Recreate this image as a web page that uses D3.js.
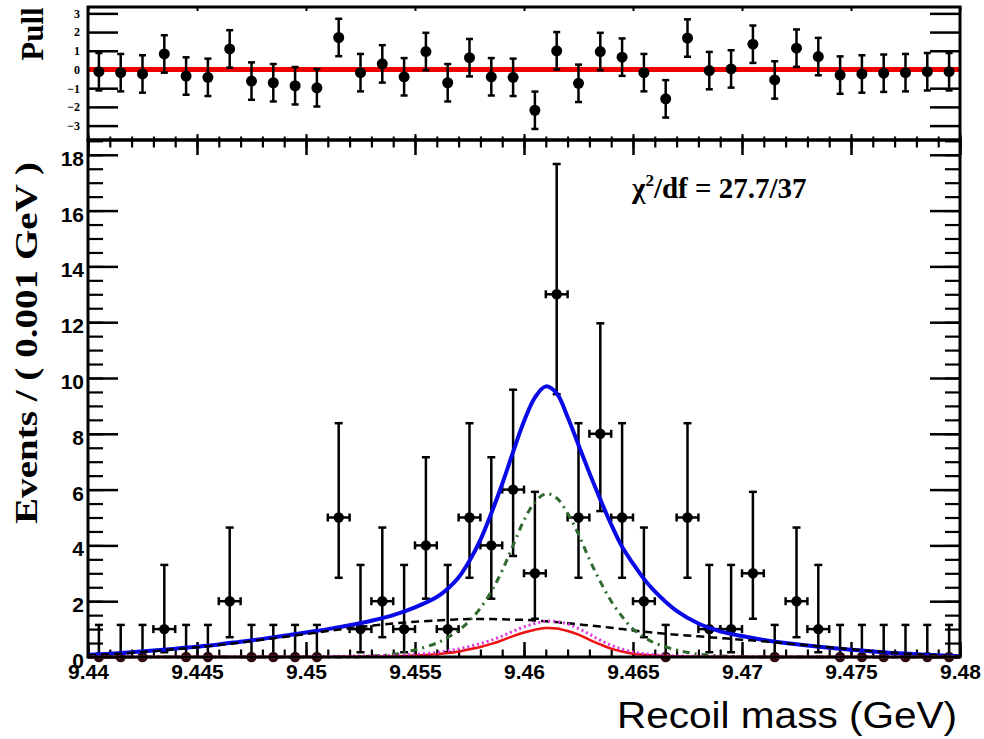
<!DOCTYPE html>
<html><head><meta charset="utf-8">
<script src="https://cdn.jsdelivr.net/npm/d3@7"></script>
<style>body{margin:0;background:#fff}</style>
</head><body><svg id="c" width="984" height="739"></svg>
<script>
// ---------------- DATA ----------------
const binCenters = [9.4405,9.4415,9.4425,9.4435,9.4445,9.4455,9.4465,9.4475,9.4485,9.4495,
  9.4505,9.4515,9.4525,9.4535,9.4545,9.4555,9.4565,9.4575,9.4585,9.4595,
  9.4605,9.4615,9.4625,9.4635,9.4645,9.4655,9.4665,9.4675,9.4685,9.4695,
  9.4705,9.4715,9.4725,9.4735,9.4745,9.4755,9.4765,9.4775,9.4785,9.4795];
const counts = [0,0,0,1,0,0,2,0,0,0, 0,5,1,2,1,4,1,5,4,6, 3,13,5,8,5,2,0,5,1,1, 3,0,2,1,0,0,0,0,0,0];
const errLow = [0,0,0,0.83,0,0,1.29,0,0,0, 0,2.16,0.83,1.29,0.83,1.91,0.83,2.16,1.91,2.38,
  1.63,3.58,2.16,2.77,2.16,1.29,0,2.16,0.83,0.83, 1.63,0,1.29,0.83,0,0,0,0,0,0];
const errHigh = [1.15,1.15,1.15,2.30,1.15,1.15,2.64,1.15,1.15,1.15, 1.15,3.38,2.30,2.64,2.30,3.16,2.30,3.38,3.16,3.58,
  2.92,4.67,3.38,3.96,3.38,2.64,1.15,3.38,2.30,2.30, 2.92,1.15,2.64,2.30,1.15,1.15,1.15,1.15,1.15,1.15];
const pulls = [-0.12,-0.17,-0.24,0.83,-0.35,-0.42,1.10,-0.62,-0.71,-0.87, -0.98,1.71,-0.17,0.30,-0.39,0.96,-0.71,0.63,-0.39,-0.42,
  -2.18,1.00,-0.74,0.96,0.66,-0.17,-1.57,1.68,-0.06,0.03, 1.35,-0.56,1.14,0.69,-0.30,-0.24,-0.20,-0.17,-0.12,-0.12];

const curveMass = [9.440,9.441,9.442,9.443,9.444,9.445,9.446,9.447,9.448,9.449,9.450,9.451,9.452,9.453,9.454,9.455,9.456,
  9.4565,9.457,9.4575,9.458,9.4585,9.459,9.4595,9.460,9.4605,9.461,9.4615,9.462,9.4625,9.463,9.4635,9.464,9.4645,9.465,9.4655,
  9.466,9.467,9.468,9.469,9.470,9.471,9.472,9.473,9.474,9.475,9.476,9.477,9.478,9.479,9.480];
const totalFit = [0.08,0.12,0.17,0.23,0.30,0.37,0.45,0.55,0.65,0.76,0.88,1.00,1.14,1.30,1.50,1.78,2.15,
  2.45,2.85,3.45,4.2,5.15,6.2,7.35,8.45,9.3,9.7,9.45,8.6,7.6,6.6,5.65,4.75,3.95,3.35,2.8,
  2.35,1.65,1.2,0.92,0.75,0.61,0.5,0.41,0.33,0.26,0.2,0.14,0.1,0.06,0.03];
const background = [0.06,0.10,0.15,0.21,0.28,0.35,0.43,0.52,0.62,0.72,0.82,0.93,1.03,1.12,1.20,1.26,1.31,
  1.33,1.35,1.36,1.36,1.36,1.35,1.34,1.33,1.31,1.28,1.25,1.21,1.17,1.13,1.09,1.05,1.00,0.95,0.91,
  0.87,0.80,0.74,0.68,0.62,0.56,0.49,0.42,0.35,0.28,0.21,0.15,0.10,0.06,0.03];
const signalMain = [0,0,0,0,0,0,0,0,0,0,0,0,0,0.03,0.10,0.25,0.50,
  0.70,0.95,1.30,1.75,2.35,3.10,4.00,4.90,5.55,5.85,5.70,5.15,4.40,3.50,2.70,2.00,1.45,1.00,0.72,
  0.50,0.25,0.10,0.04,0.01,0,0,0,0,0,0,0,0,0,0];
const signalRed = [0,0,0,0,0,0,0,0,0,0,0,0,0.01,0.01,0.02,0.05,0.10,
  0.14,0.20,0.28,0.36,0.47,0.60,0.75,0.88,0.98,1.04,1.02,0.93,0.80,0.62,0.45,0.30,0.20,0.12,0.08,
  0.05,0.02,0.01,0,0,0,0,0,0,0,0,0,0,0,0];
const signalPink = [0,0,0,0,0,0,0,0,0,0,0.01,0.02,0.03,0.04,0.06,0.10,0.16,
  0.22,0.29,0.38,0.48,0.60,0.75,0.92,1.08,1.20,1.28,1.27,1.18,1.02,0.82,0.60,0.42,0.28,0.18,0.12,
  0.08,0.04,0.02,0.01,0.01,0,0,0,0,0,0,0,0,0,0];

const xTickValues = [9.44,9.445,9.45,9.455,9.46,9.465,9.47,9.475,9.48];
const xTickLabels = ["9.44","9.445","9.45","9.455","9.46","9.465","9.47","9.475","9.48"];
const yTickValues = [0,2,4,6,8,10,12,14,16,18];
const pullTickValues = [-3,-2,-1,0,1,2,3];
const chiText = "/df = 27.7/37";

// ---------------- LAYOUT ----------------
const L = 88, R = 960, pullTop = 7, mainTop = 140, mainBot = 657;
const svg = d3.select("#c");
const x = d3.scaleLinear([9.44, 9.48], [L, R]);
const y = d3.scaleLinear([0, 18.53], [mainBot, mainTop]);
const yp = d3.scaleLinear([-3.77, 3.34], [mainTop, pullTop]);

const serif = "'Liberation Serif','Times New Roman',serif";
const sans = "'Liberation Sans',Arial,Helvetica,sans-serif";

function styleAxis(g, w) {
  g.select(".domain").remove();
  g.selectAll(".tick line").attr("stroke", "#000").attr("stroke-width", w);
}
const minorX = d3.range(9.44, 9.4805, 0.001);
const minorY = d3.range(0, 18.51, 0.5);

// ---------- PULL PANEL ----------
const pg = svg.append("g");
pg.append("g").attr("transform", `translate(${L},0)`)
  .call(d3.axisLeft(yp).tickValues(pullTickValues).tickSize(-30).tickPadding(8).tickFormat(d3.format("d")))
  .call(g => styleAxis(g, 2.5))
  .call(g => g.selectAll("text").attr("font-family", serif).attr("font-weight", "bold").attr("font-size", 12).attr("fill", "#000"));
pg.append("g").attr("transform", `translate(${R},0)`)
  .call(d3.axisRight(yp).tickValues(pullTickValues).tickSize(-30).tickFormat(""))
  .call(g => styleAxis(g, 2.5));
pg.append("g").attr("transform", `translate(0,${pullTop})`)
  .call(d3.axisTop(x).tickValues(xTickValues).tickSize(-4).tickFormat(""))
  .call(g => styleAxis(g, 2));
pg.append("g").attr("transform", `translate(0,${mainTop})`)
  .call(d3.axisBottom(x).tickValues(minorX).tickSize(-3.5).tickFormat(""))
  .call(g => styleAxis(g, 2));
pg.append("g").attr("transform", `translate(0,${mainTop})`)
  .call(d3.axisBottom(x).tickValues(xTickValues).tickSize(-6).tickFormat(""))
  .call(g => styleAxis(g, 2));

// ---------- MAIN PANEL AXES ----------
const mg = svg.append("g");
mg.append("g").attr("transform", `translate(${L},0)`)
  .call(d3.axisLeft(y).tickValues(minorY).tickSize(-15).tickFormat(""))
  .call(g => styleAxis(g, 2.2));
mg.append("g").attr("transform", `translate(${L},0)`)
  .call(d3.axisLeft(y).tickValues(yTickValues).tickSize(-30).tickPadding(4).tickFormat(d3.format("d")))
  .call(g => styleAxis(g, 2.5))
  .call(g => g.selectAll("text").attr("font-family", sans).attr("font-weight", "bold").attr("font-size", 21).attr("fill", "#000").attr("dy", "0.5em"));
mg.append("g").attr("transform", `translate(${R},0)`)
  .call(d3.axisRight(y).tickValues(minorY).tickSize(-15).tickFormat(""))
  .call(g => styleAxis(g, 2.2));
mg.append("g").attr("transform", `translate(${R},0)`)
  .call(d3.axisRight(y).tickValues(yTickValues).tickSize(-30).tickFormat(""))
  .call(g => styleAxis(g, 2.5));
mg.append("g").attr("transform", `translate(0,${mainBot})`)
  .call(d3.axisBottom(x).tickValues(minorX).tickSize(-7.5).tickFormat(""))
  .call(g => styleAxis(g, 2.2));
mg.append("g").attr("transform", `translate(0,${mainBot})`)
  .call(d3.axisBottom(x).tickValues(xTickValues).tickSize(-15).tickPadding(7).tickFormat((d, i) => xTickLabels[i]))
  .call(g => styleAxis(g, 2.5))
  .call(g => g.selectAll("text").attr("font-family", sans).attr("font-weight", "bold").attr("font-size", 21).attr("fill", "#000"));
mg.append("g").attr("transform", `translate(0,${mainTop})`)
  .call(d3.axisTop(x).tickValues(minorX).tickSize(-7.5).tickFormat(""))
  .call(g => styleAxis(g, 2.2));
mg.append("g").attr("transform", `translate(0,${mainTop})`)
  .call(d3.axisTop(x).tickValues(xTickValues).tickSize(-15).tickFormat(""))
  .call(g => styleAxis(g, 2.5));

// ---------- PULL DATA ----------
pg.append("line").attr("x1", L).attr("x2", R).attr("y1", yp(0)).attr("y2", yp(0))
  .attr("stroke", "#ee0000").attr("stroke-width", 5);
const pd = pg.append("g").selectAll("g").data(pulls).join("g");
pd.append("line").attr("x1", (d, i) => x(binCenters[i])).attr("x2", (d, i) => x(binCenters[i]))
  .attr("y1", d => yp(d - 1)).attr("y2", d => yp(d + 1)).attr("stroke", "#000").attr("stroke-width", 2.5);
[-1, 1].forEach(s => pd.append("line")
  .attr("x1", (d, i) => x(binCenters[i]) - 3.5).attr("x2", (d, i) => x(binCenters[i]) + 3.5)
  .attr("y1", d => yp(d + s)).attr("y2", d => yp(d + s)).attr("stroke", "#000").attr("stroke-width", 2.5));
pd.append("circle").attr("cx", (d, i) => x(binCenters[i])).attr("cy", d => yp(d)).attr("r", 5.5).attr("fill", "#000");

// ---------- MAIN DATA ----------
const halfBin = 0.0005;
const dd = mg.append("g").selectAll("g").data(counts).join("g");
dd.each(function (d, i) {
  const g = d3.select(this), cx = x(binCenters[i]);
  g.append("line").attr("x1", cx).attr("x2", cx).attr("y1", y(d - errLow[i])).attr("y2", y(d + errHigh[i]))
    .attr("stroke", "#000").attr("stroke-width", 2.5);
  g.append("line").attr("x1", cx - 4).attr("x2", cx + 4).attr("y1", y(d + errHigh[i])).attr("y2", y(d + errHigh[i]))
    .attr("stroke", "#000").attr("stroke-width", 2.5);
  if (d > 0) {
    g.append("line").attr("x1", cx - 4).attr("x2", cx + 4).attr("y1", y(d - errLow[i])).attr("y2", y(d - errLow[i]))
      .attr("stroke", "#000").attr("stroke-width", 2.5);
    g.append("line").attr("x1", x(binCenters[i] - halfBin)).attr("x2", x(binCenters[i] + halfBin))
      .attr("y1", y(d)).attr("y2", y(d)).attr("stroke", "#000").attr("stroke-width", 2.5);
    [-1, 1].forEach(s => g.append("line")
      .attr("x1", x(binCenters[i] + s * halfBin)).attr("x2", x(binCenters[i] + s * halfBin))
      .attr("y1", y(d) - 4).attr("y2", y(d) + 4).attr("stroke", "#000").attr("stroke-width", 2.5));
  }
  g.append("circle").attr("cx", cx).attr("cy", y(d)).attr("r", 5.2).attr("fill", d > 0 ? "#000" : "#2a0a0a");
});

// ---------- CURVES ----------
function drawCurve(vals, color, width, dash) {
  const line = d3.line().x((d, i) => x(curveMass[i])).y(d => y(d)).curve(d3.curveCatmullRom.alpha(0.5));
  const p = mg.append("path").attr("d", line(vals)).attr("fill", "none")
    .attr("stroke", color).attr("stroke-width", width).attr("stroke-linejoin", "round");
  if (dash) p.attr("stroke-dasharray", dash);
}
drawCurve(totalFit, "#0a0ae6", 4);
drawCurve(background, "#000", 2.5, "8,5");
drawCurve(signalMain, "#2f6a2f", 3, "7,5,2,5");
drawCurve(signalRed, "#ee1111", 2.5);
drawCurve(signalPink, "#dd33dd", 3, "2,3");

// ---------- FRAMES ----------
svg.append("rect").attr("x", L).attr("y", pullTop).attr("width", R - L).attr("height", mainTop - pullTop)
  .attr("fill", "none").attr("stroke", "#000").attr("stroke-width", 3);
svg.append("rect").attr("x", L).attr("y", mainTop).attr("width", R - L).attr("height", mainBot - mainTop)
  .attr("fill", "none").attr("stroke", "#000").attr("stroke-width", 3);

// ---------- TEXTS ----------
svg.append("text").attr("transform", "translate(43,34) rotate(-90)").attr("text-anchor", "middle")
  .attr("font-family", serif).attr("font-weight", "bold").attr("font-size", 31).text("Pull");
svg.append("text").attr("transform", "translate(37,343) rotate(-90)").attr("text-anchor", "middle")
  .attr("font-family", serif).attr("font-weight", "bold").attr("font-size", 32)
  .attr("textLength", 362).attr("lengthAdjust", "spacingAndGlyphs").text("Events / ( 0.001 GeV )");
const chi = svg.append("text").attr("x", 632).attr("y", 198)
  .attr("font-family", serif).attr("font-weight", "bold").attr("font-size", 29);
chi.append("tspan").text("χ");
chi.append("tspan").attr("dy", -12).attr("font-size", 17).text("2");
chi.append("tspan").attr("dy", 12).text(chiText);
svg.append("text").attr("x", 957).attr("y", 728).attr("text-anchor", "end")
  .attr("font-family", sans).attr("font-size", 36)
  .attr("textLength", 340).attr("lengthAdjust", "spacingAndGlyphs").text("Recoil mass (GeV)");
</script></body></html>
